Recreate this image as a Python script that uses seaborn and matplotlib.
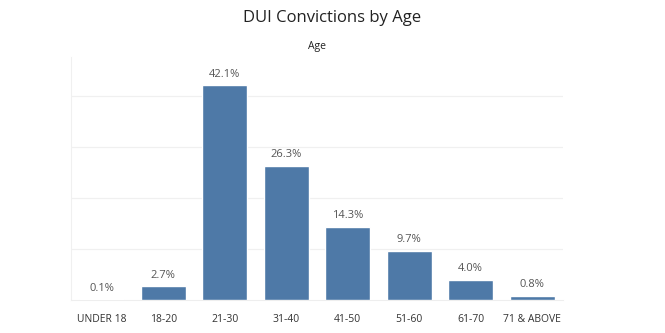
import matplotlib
matplotlib.use("Agg")
import matplotlib.pyplot as plt
import seaborn as sns
import pandas as pd

categories = ["UNDER 18", "18-20", "21-30", "31-40", "41-50", "51-60", "61-70", "71 & ABOVE"]
values = [0.1, 2.7, 42.1, 26.3, 14.3, 9.7, 4.0, 0.8]
labels = ["0.1%", "2.7%", "42.1%", "26.3%", "14.3%", "9.7%", "4.0%", "0.8%"]

df = pd.DataFrame({"Age": categories, "Pct": values})

sns.set_theme(style="white")
plt.rcParams["font.family"] = ["Open Sans", "DejaVu Sans"]

fig = plt.figure(figsize=(6.65, 3.33), dpi=100)
top_px = 57
ax = fig.add_axes([71 / 665, 1 - 300 / 333, (563 - 71) / 665, (300 - top_px) / 333])

sns.barplot(data=df, x="Age", y="Pct", color="#4e79a7", width=0.73,
            saturation=1, ax=ax, zorder=3)

ax.set_ylim(0, (300 - top_px) / 5.1)
ax.set_xlim(-0.5, len(categories) - 0.5)
ax.set_yticks([10, 20, 30, 40])
ax.yaxis.grid(True, color="#f0f0f0", linewidth=0.9, zorder=0)
ax.tick_params(axis="y", left=False, labelleft=False)
ax.tick_params(axis="x", bottom=False, labelsize=7.5, colors="#333333", pad=4)
ax.set_xlabel("")
ax.set_ylabel("")
for s in ["top", "right"]:
    ax.spines[s].set_visible(False)
ax.spines["left"].set_color("#f0f0f0")
ax.spines["bottom"].set_color("#eeeeee")
ax.spines["left"].set_linewidth(0.8)
ax.spines["bottom"].set_linewidth(0.8)

for i, (v, lab) in enumerate(zip(values, labels)):
    ax.text(i, v + 1.1, lab, ha="center", va="bottom", fontsize=8, color="#555555")

fig.text(0.5, 1 - 18 / 333, "DUI Convictions by Age", ha="center", va="center",
         fontsize=12, color="#222222")
fig.text(317 / 665, 1 - 47 / 333, "Age", ha="center", va="center",
         fontsize=7.5, color="#222222")

fig.savefig("out.png", dpi=100)
